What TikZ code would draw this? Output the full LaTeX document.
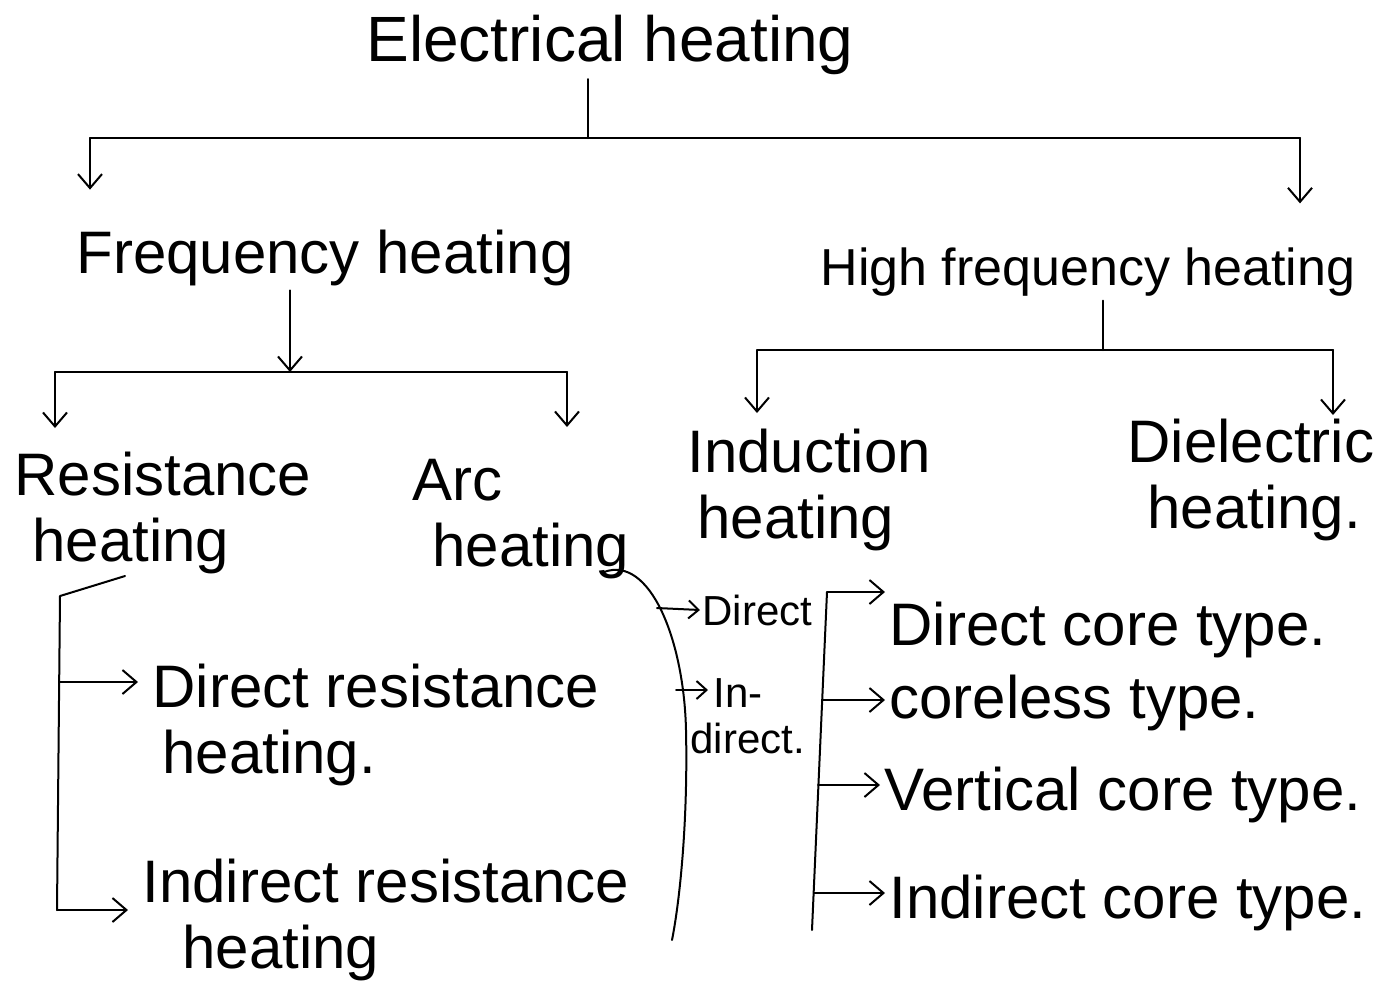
\documentclass[tikz,border=0pt]{standalone}
\usepackage{fontspec}
\setmainfont{Liberation Sans}
\usetikzlibrary{arrows.meta,positioning}
\tikzset{
  lbl/.style={font=\fontsize{30}{33}\selectfont, inner sep=2pt, align=left},
  sublbl/.style={font=\fontsize{21}{23}\selectfont, inner sep=1pt, align=left},
  hand/.style={line width=1pt, line cap=round, line join=round},
  arr/.style={hand, -{Straight Barb[length=7pt,width=12pt]}},
  sarr/.style={hand, -{Straight Barb[length=5pt,width=9pt]}},
}

\begin{document}
\begin{tikzpicture}[x=0.5pt, y=-0.5pt]
  \useasboundingbox (0,0) rectangle (1378,998);
  % levels 1 and 2
  \node[lbl, font=\fontsize{32}{36}\selectfont] (elec) at (610,45) {Electrical heating};
  \node[lbl] (freq) at (325,258) {Frequency heating};
  \node[lbl, font=\fontsize{26}{30}\selectfont] (hfreq) at (1088,272) {High frequency heating};
  \node[lbl, anchor=north west] (res) at (10,448) {Resistance\\\hspace*{9pt}heating};
  \node[lbl, anchor=north west] (arc) at (408,455) {Arc\\\hspace*{10pt}heating};
  \node[lbl, anchor=north west] (ind) at (683,425) {Induction\\\hspace*{5pt}heating};
  \node[lbl, anchor=north west] (diel) at (1123,415) {Dielectric\\\hspace*{10pt}heating.};
  % leaves
  \node[lbl, anchor=north west] (dres) at (148,660) {Direct resistance\\\hspace*{5pt}heating.};
  \node[lbl, anchor=north west] (ires) at (138,855) {Indirect resistance\\\hspace*{20pt}heating};
  \node[sublbl, anchor=west] (dir) at (700,610) {Direct};
  \node[sublbl, anchor=north west] (indir) at (688,675) {\phantom{d}In-\\direct.};
  \node[lbl, anchor=base west] (dct) at (885,645) {Direct core type.};
  \node[lbl, anchor=base west] (clt) at (885,718) {coreless type.};
  \node[lbl, anchor=base west] (vct) at (880,810) {Vertical core type.};
  \node[lbl, anchor=base west] (ict) at (885,918) {Indirect core type.};

  % top split
  \coordinate (t0) at (588,138);
  \coordinate (tl) at (90,138);
  \coordinate (tr) at (1300,138);
  \draw[hand] (elec.south -| t0) -- (t0);
  \draw[hand] (tl) -- (tr);
  \draw[arr, shorten >=18pt] (tl) -- (tl |- freq.north);
  \draw[arr, shorten >=20pt] (tr) -- (tr |- hfreq.north);

  % frequency heating
  \coordinate (f0) at (290,372);
  \coordinate (fl) at (55,372);
  \coordinate (fr) at (567,372);
  \draw[arr] (freq.south -| f0) -- (f0);
  \draw[hand] (fl) -- (fr);
  \draw[arr, shorten >=10pt] (fl) -- (fl |- res.north);
  \draw[arr, shorten >=14pt] (fr) -- (fr |- arc.north);

  % high frequency heating
  \coordinate (h0) at (1103,350);
  \coordinate (hl) at (757,350);
  \coordinate (hr) at (1333,350);
  \draw[hand] (hfreq.south -| h0) -- (h0);
  \draw[hand] (hl) -- (hr);
  \draw[arr, shorten >=6pt] (hl) -- (hl |- ind.north);
  \draw[arr] (hr) -- (hr |- diel.north);

  % resistance heating
  \coordinate (rs) at (125,576);
  \coordinate (r0) at (60,596);
  \coordinate (r1) at (60,682);
  \coordinate (r2) at (57,910);
  \draw[hand] (rs) -- (r0) -- (r2);
  \draw[arr, shorten >=5pt] (r1) -- (r1 -| dres.west);
  \draw[arr, shorten >=5pt] (r2) -- (r2 -| ires.west);

  % arc heating
  \coordinate (ac) at (604,572);
  \coordinate (ae) at (672,940);
  \coordinate (ad) at (657,608);
  \coordinate (ai) at (676,690);
  \draw[hand] (ac) .. controls (650,555) and (684,640) .. (686,730)
    .. controls (688,820) and (680,900) .. (ae);
  \draw[sarr] (ad) -- (dir.west);
  \draw[sarr] (ai) -- ([xshift=10pt]ai -| indir.west);

  % induction heating
  \coordinate (k0) at (827,592);
  \coordinate (k1) at (822,700);
  \coordinate (k2) at (818,785);
  \coordinate (k3) at (814,893);
  \coordinate (kb) at (812,930);
  \draw[hand] (k0) -- (kb);
  \draw[arr] (k0) -- (k0 -| dct.west);
  \draw[arr] (k1) -- (k1 -| clt.west);
  \draw[arr] (k2) -- (k2 -| vct.west);
  \draw[arr] (k3) -- (k3 -| ict.west);
\end{tikzpicture}
\end{document}
